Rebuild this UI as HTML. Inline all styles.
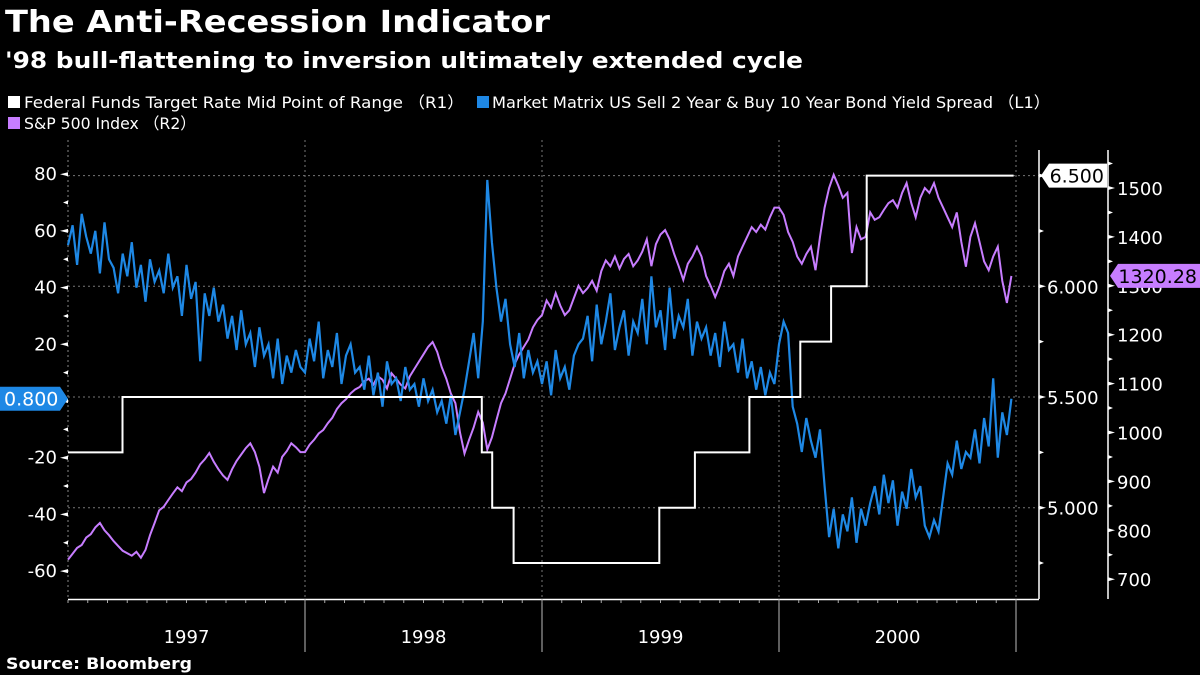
<!DOCTYPE html>
<html><head><meta charset="utf-8"><style>
body{margin:0;background:#000;width:1200px;height:675px;overflow:hidden;font-family:"DejaVu Sans","Liberation Sans",sans-serif;color:#fff}
</style></head><body>
<svg id="chart" width="1200" height="675" style="position:absolute;left:0;top:0" font-family="DejaVu Sans, Liberation Sans, sans-serif">
<text x="5" y="32" font-size="30" font-weight="bold" fill="#fff" textLength="545" lengthAdjust="spacingAndGlyphs">The Anti-Recession Indicator</text>
<text x="5" y="68" font-size="22" font-weight="bold" fill="#fff" textLength="798" lengthAdjust="spacingAndGlyphs">'98 bull-flattening to inversion ultimately extended cycle</text>
<g><rect x="8" y="96" width="12" height="12" fill="#fff"/><text x="24" y="108" font-size="16" fill="#fff" textLength="440" lengthAdjust="spacingAndGlyphs">Federal Funds Target Rate Mid Point of Range （R1）</text></g>
<g><rect x="477" y="96" width="12" height="12" fill="#1e88e5"/><text x="492" y="108" font-size="16" fill="#fff" textLength="558" lengthAdjust="spacingAndGlyphs">Market Matrix US Sell 2 Year &amp; Buy 10 Year Bond Yield Spread （L1）</text></g>
<g><rect x="8" y="117" width="12" height="12" fill="#c77dff"/><text x="24" y="129" font-size="16" fill="#fff" textLength="172" lengthAdjust="spacingAndGlyphs">S&amp;P 500 Index （R2）</text></g>
<text x="6" y="669" font-size="16" font-weight="bold" fill="#fff" textLength="186" lengthAdjust="spacingAndGlyphs">Source: Bloomberg</text>
</svg>
<script>
const years=["1997","1998","1999","2000"];
const leftTicks=[80,60,40,20,0,-20,-40,-60];
const r1Ticks=[6.5,6.0,5.5,5.0];
const r2Ticks=[1500,1400,1300,1200,1100,1000,900,800,700];
const fedDates=[1997.0,1997.23,1998.746,1998.79,1998.88,1999.495,1999.645,1999.875,2000.09,2000.22,2000.37];
const fedRates=[5.25,5.5,5.25,5.0,4.75,5.0,5.25,5.5,5.75,6.0,6.5];
const spread=[
55,62,48,66,58,52,60,45,63,50,47,38,52,44,56,40,48,35,50,42,46,38,52,40,44,30,48,36,42,14,38,30,40,28,34,22,30,18,32,20,24,12,26,16,20,8,22,6,16,10,18,12,
10,22,14,28,8,18,12,24,6,16,20,10,12,4,16,2,10,-2,14,6,8,0,12,4,6,-2,8,0,4,-4,0,-8,2,-12,-4,4,14,24,8,28,78,56,40,28,36,20,12,24,8,18,10,14,
6,14,2,18,8,12,4,16,20,22,30,14,34,20,28,38,18,26,32,16,28,24,36,20,44,26,32,18,40,22,30,26,36,16,28,22,26,16,24,12,28,18,20,10,22,8,14,4,12,2,10,6,
20,28,24,-2,-8,-18,-6,-14,-20,-10,-30,-48,-38,-52,-40,-46,-34,-50,-38,-44,-36,-30,-40,-26,-36,-28,-44,-32,-38,-24,-34,-30,-44,-48,-42,-46,-34,-22,-26,-14,-24,-18,-20,-10,-22,-6,-16,8,-20,-4,-12,0.8];
const sp500=[
740,752,764,770,785,792,806,815,800,790,778,768,758,753,748,756,744,760,790,815,841,848,862,875,888,880,898,905,918,935,945,958,940,925,912,903,925,942,955,968,978,960,930,876,905,930,918,950,962,978,970,960,
960,975,985,998,1005,1019,1030,1048,1060,1068,1080,1088,1093,1105,1110,1098,1115,1108,1090,1121,1110,1098,1090,1115,1130,1145,1160,1175,1185,1165,1134,1110,1080,1060,1000,957,985,1010,1042,1020,965,990,1025,1060,1080,1110,1140,1160,1175,1190,1215,1230,
1240,1270,1255,1285,1260,1240,1250,1275,1300,1285,1295,1310,1290,1330,1352,1340,1360,1335,1355,1365,1340,1352,1370,1395,1340,1385,1405,1414,1395,1365,1340,1312,1345,1360,1380,1360,1320,1300,1277,1300,1330,1345,1320,1360,1380,1400,1420,1410,1425,1415,1440,1460,
1460,1445,1410,1390,1360,1345,1365,1380,1332,1400,1460,1500,1527,1505,1480,1490,1367,1420,1395,1400,1450,1435,1440,1455,1469,1475,1460,1490,1510,1470,1440,1480,1500,1490,1510,1480,1460,1440,1420,1450,1390,1339,1400,1428,1390,1350,1332,1360,1380,1310,1265,1320.28];

const svg=document.getElementById('chart');const NS='http://www.w3.org/2000/svg';
function mk(tag,attrs,parent){const e=document.createElementNS(NS,tag);for(const k in attrs)e.setAttribute(k,attrs[k]);(parent||svg).appendChild(e);return e;}
const X=t=>68+(t-1997)*237;
const YL=v=>401-v*2.835;
const YR1=v=>397-(v-5.5)*221.4;
const YR2=v=>188+(1500-v)*0.489;
r1Ticks.forEach(v=>{const g=mk('line',{x1:68,x2:1039,y1:YR1(v),y2:YR1(v),stroke:'#777','stroke-dasharray':'2,3','stroke-width':1});

});
[1998,1999,2000,2001].forEach(y=>{const g=mk('line',{x1:X(y),x2:X(y),y1:140,y2:599,stroke:'#777','stroke-dasharray':'2,3'});

});
const la=mk('line',{x1:68,x2:68,y1:140,y2:599,stroke:'#888','stroke-dasharray':'2,3'});


const ba=mk('line',{x1:68,x2:1039,y1:599.5,y2:599.5,stroke:'#fff','stroke-width':1.5});


for(let v=80;v>=-60;v-=10){const tk=mk('path',{d:`M${v%20==0?60:63} ${YL(v)} L68 ${YL(v)-2} L68 ${YL(v)+2}Z`,fill:'#fff'});

}
leftTicks.forEach(v=>{const t=mk('text',{x:57,y:YL(v)+6,'text-anchor':'end','font-size':18,fill:'#fff'});t.textContent=v;

});
const r1=mk('line',{x1:1039,x2:1039,y1:150,y2:599,stroke:'#fff','stroke-width':1.5});


for(let v=4.75;v<=6.75;v+=0.25){const y=YR1(v);if(y<150||y>599)continue;const tk=mk('path',{d:`M1039 ${y-2} L${v*4%2==0?1046:1044} ${y} L1039 ${y+2}Z`,fill:'#fff'});

}
r1Ticks.forEach(v=>{if(v==6.5)return;const t=mk('text',{x:1047,y:YR1(v)+7,'font-size':18,fill:'#fff'});t.textContent=v.toFixed(3);

});
const r2=mk('line',{x1:1108,x2:1108,y1:150,y2:599,stroke:'#fff','stroke-width':1.5});


for(let v=650;v<=1550;v+=50){const y=YR2(v);if(y<150||y>599)continue;const tk=mk('path',{d:`M1108 ${y-2} L${v%100==0?1115:1113} ${y} L1108 ${y+2}Z`,fill:'#fff'});

}
r2Ticks.forEach(v=>{const t=mk('text',{x:1117,y:YR2(v)+7,'font-size':18,fill:'#fff'});t.textContent=v;

});
years.forEach((y,i)=>{const t=mk('text',{x:X(1997.5+i),y:643,'text-anchor':'middle','font-size':18,fill:'#fff'});t.textContent=y;


const s=mk('line',{x1:X(1998+i),x2:X(1998+i),y1:599,y2:652,stroke:'#bbb','stroke-width':1});

});
for(let m=0;m<=48;m++){const x=X(1997+m/12);const tk=mk('line',{x1:x,x2:x,y1:600,y2:603,stroke:'#aaa'});

}
let d='';sp500.forEach((v,i)=>{d+=(i?'L':'M')+X(1997+i/52).toFixed(1)+' '+YR2(v).toFixed(1);});
const sp=mk('path',{d,fill:'none',stroke:'#c77dff','stroke-width':2});


d='';spread.forEach((v,i)=>{d+=(i?'L':'M')+X(1997+i/52).toFixed(1)+' '+YL(v).toFixed(1);});
const spl=mk('path',{d,fill:'none',stroke:'#1e88e5','stroke-width':2.2});


d='';fedDates.forEach((t,i)=>{const y=YR1(fedRates[i]);d+=(i?'L'+X(t).toFixed(1)+' '+YR1(fedRates[i-1]).toFixed(1)+'L':'M')+X(t).toFixed(1)+' '+y.toFixed(1);});
d+='L'+X(2000.99).toFixed(1)+' '+YR1(fedRates[fedRates.length-1]).toFixed(1);
const ff=mk('path',{d,fill:'none',stroke:'#fff','stroke-width':2});


function badge(x,w,y,fill,color,txt,left,name){const g=mk('g',{});


const h=24,p=left?`M${x} ${y} L${x+8} ${y-h/2} L${x+w} ${y-h/2} L${x+w} ${y+h/2} L${x+8} ${y+h/2}Z`:`M${x} ${y-h/2} L${x+w-8} ${y-h/2} L${x+w} ${y} L${x+w-8} ${y+h/2} L${x} ${y+h/2}Z`;
mk('path',{d:p,fill},g);const t=mk('text',{x:left?x+w-3:x+4,y:y+7,'text-anchor':left?'end':'start','font-size':19,fill:color},g);t.textContent=txt;}
const lastR=fedRates[fedRates.length-1],lastS=sp500[sp500.length-1],lastD=spread[spread.length-1];
badge(1041,66,YR1(lastR),'#fff','#000',lastR.toFixed(3),true,'fed-funds-value-badge');
badge(1110,90,YR2(lastS),'#c77dff','#000',lastS.toFixed(2),true,'sp500-value-badge');
badge(0,68,YL(lastD),'#1e88e5','#fff',lastD.toFixed(3),false,'spread-value-badge');
</script>
</body></html>
